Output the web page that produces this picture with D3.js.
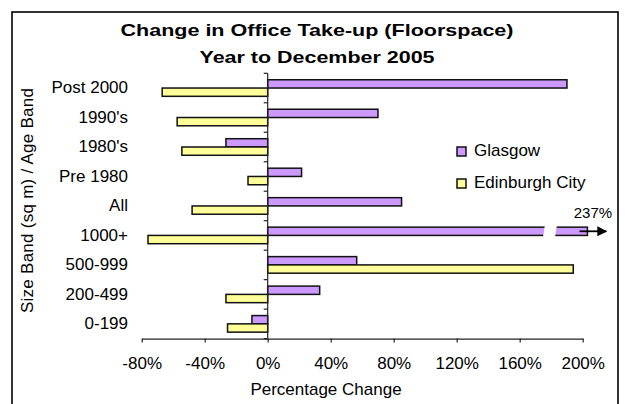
<!DOCTYPE html>
<html>
<head>
<meta charset="utf-8">
<script src="https://cdn.jsdelivr.net/npm/d3@7"></script>
<style>
  html, body { margin: 0; padding: 0; background: #fff; }
  svg { display: block; font-family: Arial, "Liberation Sans", sans-serif; }
</style>
</head>
<body>
<svg id="chart" width="625" height="404"></svg>
<script>
// Office take-up change by size band / age band, year to December 2005
const categories = ["Post 2000", "1990's", "1980's", "Pre 1980", "All", "1000+", "500-999", "200-499", "0-199"];
const seriesNames = ["Glasgow", "Edinburgh City"];
const glasgow   = [190, 70, -26.5, 21.5, 85, 237, 56.5, 33, -10];
const edinburgh = [-67, -57.5, -54.5, -12.5, -48, -76, 194, -26.5, -25.5];
const xTicks = [-80, -40, 0, 40, 80, 120, 160, 200];
const titleLines = ["Change in Office Take-up (Floorspace)", "Year to December 2005"];

// Off-scale bars are cut past the axis end and marked with a break and an arrow
const axisMin = -80, axisMax = 200;
const capValue = 203;          // where an off-scale bar is cut
const breakFrom = 176, breakTo = 183;
const arrowFrom = 198, arrowTo = 215;

const colors = { "Glasgow": "#cc99ff", "Edinburgh City": "#ffff99" };

const svg = d3.select("#chart");

// outer chart frame
svg.append("rect")
  .attr("x", 12).attr("y", 12).attr("width", 606).attr("height", 420)
  .attr("fill", "#fff").attr("stroke", "#000").attr("stroke-width", 1.6);

const x = d3.scaleLinear().domain([axisMin, axisMax]).range([141.7, 582.7]);
const y = d3.scaleBand().domain(categories).range([73.3, 338.6]).paddingInner(0).paddingOuter(0);
const ySub = d3.scaleBand().domain(seriesNames).range([0, y.bandwidth()]).paddingInner(0).paddingOuter(0.78);

// title
const titleWidths = [393, 235];
const titleBase = [35.7, 62.7];
titleLines.forEach((t, i) => {
  svg.append("text")
    .attr("x", 317).attr("y", titleBase[i])
    .attr("text-anchor", "middle")
    .attr("font-size", 17).attr("font-weight", "bold")
    .attr("textLength", titleWidths[i]).attr("lengthAdjust", "spacingAndGlyphs")
    .text(t);
});

// bars
const rows = categories.map((c, i) => ({ cat: c, values: [
  { name: seriesNames[0], v: glasgow[i] },
  { name: seriesNames[1], v: edinburgh[i] }
]}));

const groups = svg.append("g").selectAll("g").data(rows).join("g")
  .attr("transform", d => `translate(0,${y(d.cat)})`);

groups.selectAll("rect").data(d => d.values).join("rect")
  .attr("x", d => x(Math.min(0, d.v)))
  .attr("width", d => Math.abs(x(Math.min(d.v, capValue)) - x(0)))
  .attr("y", d => ySub(d.name))
  .attr("height", ySub.bandwidth())
  .attr("fill", d => colors[d.name])
  .attr("stroke", "#111").attr("stroke-width", 1.5);

// break marks and arrows on off-scale bars
const offScale = [];
rows.forEach(r => r.values.forEach(v => { if (v.v > axisMax) offScale.push({ cat: r.cat, name: v.name, v: v.v }); }));

const defs = svg.append("defs");
defs.append("marker").attr("id", "arrowHead")
  .attr("viewBox", "0 0 10 10").attr("refX", 9).attr("refY", 5)
  .attr("markerWidth", 10).attr("markerHeight", 11).attr("markerUnits", "userSpaceOnUse")
  .attr("orient", "auto")
  .append("path").attr("d", "M0,0 L10,5 L0,10 Z").attr("fill", "#000");

offScale.forEach(d => {
  const top = y(d.cat) + ySub(d.name);
  const h = ySub.bandwidth();
  svg.append("path")
    .attr("d", `M${x(breakFrom)},${top - 2} L${x(breakTo) + 1},${top - 2} L${x(breakTo) - 1},${top + h + 2} L${x(breakFrom) - 2},${top + h + 2} Z`)
    .attr("fill", "#fff");
  svg.append("line")
    .attr("x1", x(arrowFrom)).attr("x2", x(arrowTo))
    .attr("y1", top + h / 2).attr("y2", top + h / 2)
    .attr("stroke", "#000").attr("stroke-width", 1.8)
    .attr("marker-end", "url(#arrowHead)");
  svg.append("text")
    .attr("x", x(206.5)).attr("y", top - 9.5)
    .attr("text-anchor", "middle").attr("font-size", 15)
    .text(d.v + "%");
});

// vertical axis through zero, ticks on band boundaries
const axisColor = "#222";
svg.append("line")
  .attr("x1", x(0)).attr("x2", x(0))
  .attr("y1", y.range()[0]).attr("y2", y.range()[1])
  .attr("stroke", axisColor).attr("stroke-width", 1.2);
const bounds = categories.map(c => y(c)).concat([y.range()[1]]);
svg.append("g").selectAll("line").data(bounds).join("line")
  .attr("x1", x(0) - 4).attr("x2", x(0))
  .attr("y1", d => d).attr("y2", d => d)
  .attr("stroke", axisColor).attr("stroke-width", 1.2);

// category labels
svg.append("g").selectAll("text").data(categories).join("text")
  .attr("x", 128).attr("y", d => y(d) + y.bandwidth() / 2)
  .attr("dy", "0.32em")
  .attr("text-anchor", "end").attr("font-size", 17)
  .text(d => d);

// horizontal axis
const xAxis = d3.axisBottom(x).tickValues(xTicks)
  .tickFormat(d => d + "%").tickSizeInner(4).tickSizeOuter(0).tickPadding(14.5);
const gx = svg.append("g").attr("transform", `translate(0,${y.range()[1]})`).call(xAxis);
gx.select(".domain").attr("stroke", axisColor).attr("stroke-width", 1.2);
gx.selectAll(".tick line").attr("stroke", axisColor).attr("stroke-width", 1.2);
gx.selectAll(".tick text").attr("font-size", 17).attr("font-family", "Arial, 'Liberation Sans', sans-serif").attr("fill", "#000");

// axis titles
svg.append("text")
  .attr("x", 326).attr("y", 394.5)
  .attr("text-anchor", "middle").attr("font-size", 17)
  .text("Percentage Change");
svg.append("text")
  .attr("transform", "translate(33,200.5) rotate(-90)")
  .attr("text-anchor", "middle").attr("font-size", 17)
  .attr("textLength", 225).attr("lengthAdjust", "spacing")
  .text("Size Band (sq m) / Age Band");

// legend
const legend = svg.append("g").selectAll("g").data(seriesNames).join("g")
  .attr("transform", (d, i) => `translate(457,${147 + i * 32})`);
legend.append("rect")
  .attr("width", 9).attr("height", 9)
  .attr("fill", d => colors[d]).attr("stroke", "#111").attr("stroke-width", 1.5);
legend.append("text")
  .attr("x", 17).attr("y", 8.7)
  .attr("font-size", 17)
  .text(d => d);
</script>
</body>
</html>
